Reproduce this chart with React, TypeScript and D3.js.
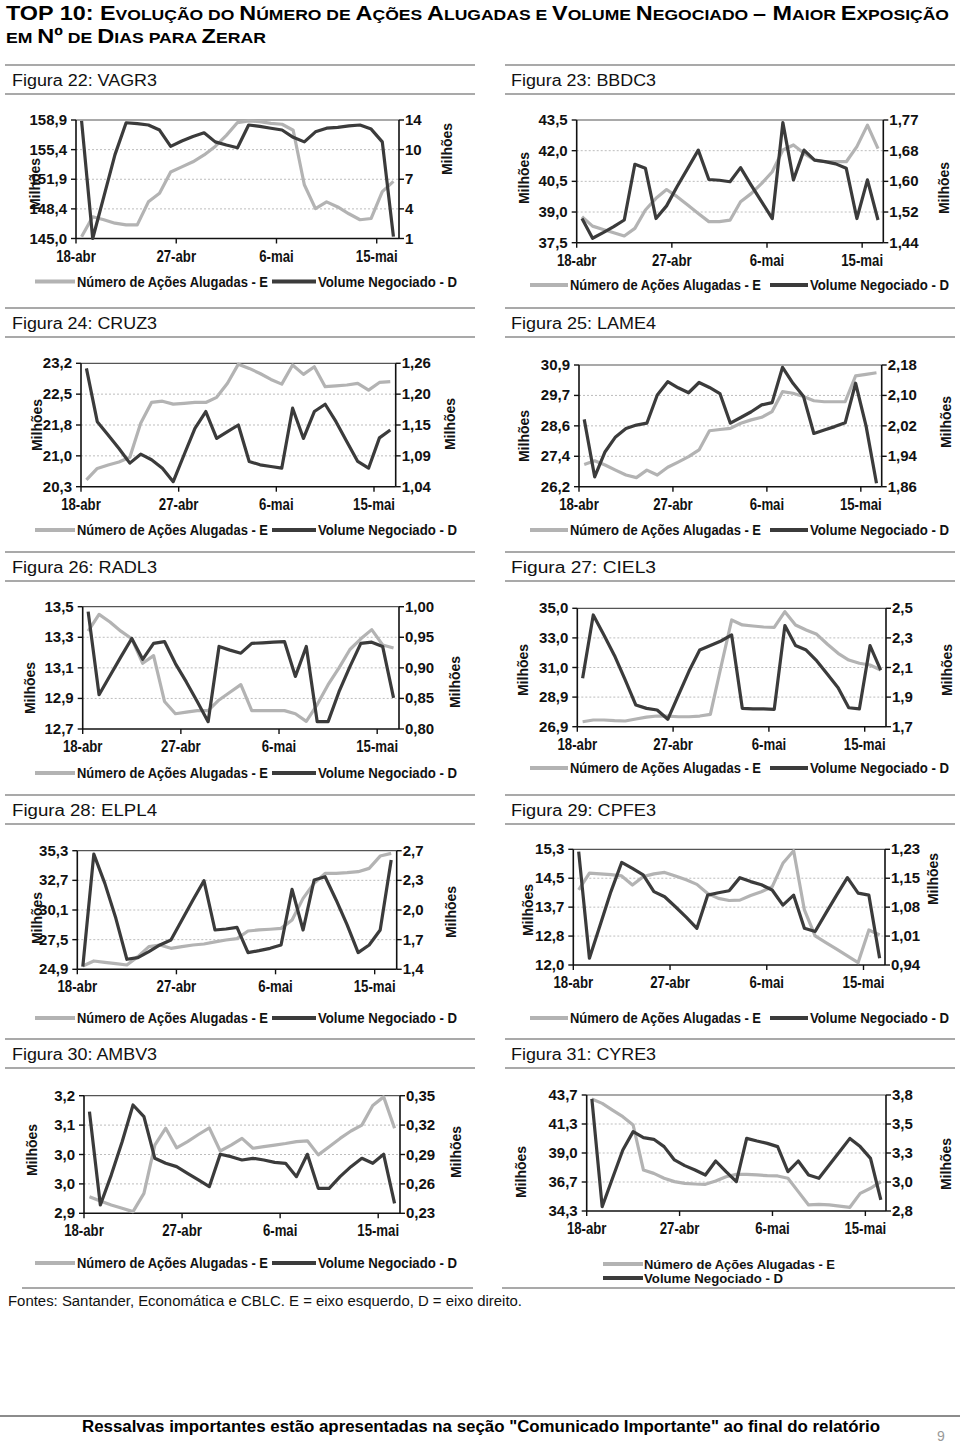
import React from 'react';
import * as d3 from 'd3';

// ---------- DATA ----------
const DATES = [
  '18-abr','19-abr','20-abr','21-abr','22-abr','23-abr','24-abr','25-abr','26-abr','27-abr','28-abr','29-abr','30-abr',
  '1-mai','2-mai','3-mai','4-mai','5-mai','6-mai','7-mai','8-mai','9-mai','10-mai','11-mai','12-mai','13-mai','14-mai','15-mai','16-mai'
];
const X_TICKS = ['18-abr', '27-abr', '6-mai', '15-mai'];
const SERIES_E = 'Número de Ações Alugadas - E';
const SERIES_D = 'Volume Negociado - D';

const VAGR3_E = [145.2,147.55,147.2,146.8,146.6,146.6,149.3,150.3,152.8,153.4,154.0,154.8,155.8,157.1,158.6,158.8,158.7,158.5,158.4,157.7,151.3,148.5,149.3,148.7,147.9,147.2,147.35,150.5,151.7];
const VAGR3_D = [13.9,1.0,5.6,10.2,13.7,13.6,13.45,12.9,11.1,11.7,12.2,12.6,11.6,11.25,10.95,13.45,13.3,13.1,12.9,12.1,11.6,12.7,13.1,13.2,13.35,13.45,13.0,11.6,1.2];
const VAGR3_E_TICKS = ['145,0','148,4','151,9','155,4','158,9'];
const VAGR3_D_TICKS = ['1','4','7','10','14'];

const BBDC3_E = [38.77,38.31,38.15,37.99,37.83,38.2,39.1,39.67,40.1,39.75,39.34,38.93,38.53,38.53,38.6,39.5,39.9,40.4,40.97,42.03,42.28,41.87,41.54,41.46,41.46,41.46,42.2,43.25,42.1];
const BBDC3_D = [1.505,1.452,1.467,1.483,1.501,1.651,1.640,1.505,1.539,1.591,1.640,1.689,1.610,1.608,1.604,1.642,1.595,1.550,1.505,1.763,1.609,1.689,1.662,1.658,1.652,1.640,1.505,1.609,1.501];
const BBDC3_E_TICKS = ['37,5','39,0','40,5','42,0','43,5'];
const BBDC3_D_TICKS = ['1,44','1,52','1,60','1,68','1,77'];

const CRUZ3_E = [20.46,20.73,20.81,20.88,20.99,21.79,22.28,22.31,22.24,22.26,22.28,22.28,22.4,22.73,23.18,23.08,22.96,22.82,22.71,23.16,22.94,23.12,22.65,22.67,22.69,22.73,22.57,22.75,22.77];
const CRUZ3_D = [1.251,1.156,1.132,1.108,1.082,1.098,1.088,1.073,1.049,1.097,1.144,1.174,1.126,1.138,1.15,1.085,1.079,1.076,1.073,1.18,1.126,1.174,1.187,1.156,1.12,1.085,1.073,1.127,1.141];
const CRUZ3_E_TICKS = ['20,3','21,0','21,8','22,5','23,2'];
const CRUZ3_D_TICKS = ['1,04','1,09','1,15','1,20','1,26'];

const LAME4_E = [27.06,27.2,27.04,26.84,26.65,26.55,26.84,26.65,26.95,27.15,27.36,27.62,28.36,28.41,28.45,28.65,28.78,28.88,29.1,29.87,29.81,29.68,29.52,29.48,29.48,29.48,30.48,30.54,30.6];
const LAME4_D = [2.037,1.886,1.952,1.991,2.013,2.022,2.027,2.101,2.136,2.12,2.107,2.134,2.121,2.105,2.027,2.042,2.057,2.075,2.081,2.174,2.132,2.098,2.0,2.009,2.018,2.028,2.132,2.02,1.869];
const LAME4_E_TICKS = ['26,2','27,4','28,6','29,7','30,9'];
const LAME4_D_TICKS = ['1,86','1,94','2,02','2,10','2,18'];

const RADL3_E = [13.34,13.45,13.4,13.34,13.29,13.13,13.18,12.88,12.8,12.81,12.82,12.82,12.89,12.94,12.99,12.82,12.82,12.82,12.82,12.8,12.75,12.86,12.99,13.1,13.22,13.29,13.35,13.25,13.23];
const RADL3_D = [0.992,0.856,0.887,0.918,0.948,0.914,0.94,0.943,0.907,0.877,0.845,0.812,0.935,0.929,0.924,0.94,0.941,0.942,0.943,0.886,0.935,0.812,0.812,0.861,0.902,0.94,0.942,0.935,0.851];
const RADL3_E_TICKS = ['12,7','12,9','13,1','13,3','13,5'];
const RADL3_D_TICKS = ['0,80','0,85','0,90','0,95','1,00'];

const CIEL3_E = [27.24,27.36,27.36,27.31,27.29,27.43,27.56,27.63,27.63,27.58,27.58,27.63,27.74,31.0,34.2,33.86,33.79,33.72,33.7,34.77,33.86,33.52,33.22,32.54,31.92,31.46,31.24,31.12,30.78];
const CIEL3_D = [2.027,2.455,2.32,2.18,2.016,1.846,1.824,1.813,1.75,1.914,2.076,2.218,2.248,2.279,2.32,1.824,1.82,1.82,1.817,2.383,2.248,2.218,2.144,2.054,1.964,1.828,1.82,2.248,2.083];
const CIEL3_E_TICKS = ['26,9','28,9','31,0','33,0','35,0'];
const CIEL3_D_TICKS = ['1,7','1,9','2,1','2,3','2,5'];

const ELPL4_E = [25.19,25.63,25.51,25.4,25.28,26.01,26.89,27.03,26.74,26.89,27.03,27.12,27.3,27.47,27.59,28.26,28.35,28.41,28.49,29.22,31.12,32.44,33.31,33.31,33.37,33.46,33.75,34.83,35.07];
const ELPL4_D = [1.429,2.663,2.342,1.959,1.51,1.528,1.594,1.667,1.721,1.94,2.16,2.371,1.831,1.842,1.86,1.583,1.604,1.63,1.667,2.276,1.831,2.379,2.415,2.16,1.886,1.583,1.667,1.831,2.598];
const ELPL4_E_TICKS = ['24,9','27,5','30,1','32,7','35,3'];
const ELPL4_D_TICKS = ['1,4','1,7','2,0','2,3','2,7'];

const CPFE3_E = [14.14,14.62,14.6,14.58,14.54,14.28,14.52,14.6,14.64,14.54,14.43,14.3,14.04,13.9,13.84,13.85,13.98,14.09,14.23,14.9,15.26,13.57,12.83,12.64,12.45,12.26,12.07,13.0,12.86];
const CPFE3_D = [1.224,0.957,1.04,1.124,1.197,1.182,1.166,1.124,1.111,1.086,1.06,1.032,1.115,1.121,1.126,1.159,1.149,1.141,1.128,1.09,1.115,1.032,1.024,1.07,1.115,1.159,1.12,1.115,0.957];
const CPFE3_E_TICKS = ['12,0','12,8','13,7','14,5','15,3'];
const CPFE3_D_TICKS = ['0,94','1,01','1,08','1,15','1,23'];

const AMBV3_E = [2.9425,2.9314,2.9213,2.9127,2.9043,2.951,3.074,3.117,3.067,3.083,3.101,3.118,3.059,3.074,3.091,3.066,3.07,3.074,3.078,3.083,3.085,3.049,3.07,3.091,3.11,3.125,3.175,3.197,3.117];
const AMBV3_D = [0.3337,0.2385,0.269,0.303,0.3405,0.3286,0.2861,0.281,0.2776,0.2708,0.264,0.2572,0.2902,0.2878,0.2844,0.2861,0.2844,0.282,0.281,0.2674,0.2902,0.2555,0.2555,0.2674,0.2776,0.2861,0.281,0.2902,0.2402];
const AMBV3_E_TICKS = ['2,9','3,0','3,0','3,1','3,2'];
const AMBV3_D_TICKS = ['0,23','0,26','0,29','0,32','0,35'];

const CYRE3_E = [43.38,43.02,42.48,41.94,41.27,37.62,37.35,36.95,36.68,36.54,36.49,36.46,36.73,37.08,37.27,37.27,37.22,37.16,37.14,36.95,35.87,34.79,34.84,34.79,34.7,34.6,35.73,36.14,36.68];
const CYRE3_D = [3.766,2.837,3.082,3.326,3.484,3.432,3.418,3.355,3.24,3.191,3.153,3.11,3.231,3.139,3.053,3.426,3.403,3.383,3.355,3.139,3.231,3.11,3.082,3.197,3.311,3.426,3.355,3.254,2.895];
const CYRE3_E_TICKS = ['34,3','36,7','39,0','41,3','43,7'];
const CYRE3_D_TICKS = ['2,8','3,0','3,3','3,5','3,8'];

// ---------- LAYOUT ----------
const SANS = "'Liberation Sans', Arial, Helvetica, sans-serif";
const LIGHT = '#b3b3b3';
const DARK = '#3b3b3b';

const ROW_Y = [80, 323, 567, 810, 1054];

type Cfg = {
  title: string; col: number; row: number;
  L: number; R: number; T: number; B: number;
  E: number[]; D: number[]; eDom: [number, number]; dDom: [number, number];
  eTicks: string[]; dTicks: string[];
  mL: [number, number]; mR: [number, number]; legY: number; stacked?: boolean;
};

const CHARTS: Cfg[] = [
  { title: 'Figura 22: VAGR3', col: 0, row: 0, L: 76, R: 399, T: 120, B: 238.5, E: VAGR3_E, D: VAGR3_D, eDom: [145.0, 158.9], dDom: [1, 14], eTicks: VAGR3_E_TICKS, dTicks: VAGR3_D_TICKS, mL: [35, 184], mR: [447, 149], legY: 281.5 },
  { title: 'Figura 23: BBDC3', col: 1, row: 0, L: 576.7, R: 883.3, T: 120, B: 242.7, E: BBDC3_E, D: BBDC3_D, eDom: [37.5, 43.5], dDom: [1.44, 1.77], eTicks: BBDC3_E_TICKS, dTicks: BBDC3_D_TICKS, mL: [524, 178], mR: [944, 188], legY: 285 },
  { title: 'Figura 24: CRUZ3', col: 0, row: 1, L: 81, R: 395.7, T: 363.3, B: 486.7, E: CRUZ3_E, D: CRUZ3_D, eDom: [20.3, 23.2], dDom: [1.04, 1.26], eTicks: CRUZ3_E_TICKS, dTicks: CRUZ3_D_TICKS, mL: [37, 425], mR: [450, 424], legY: 530 },
  { title: 'Figura 25: LAME4', col: 1, row: 1, L: 579, R: 881.7, T: 365, B: 486.7, E: LAME4_E, D: LAME4_D, eDom: [26.2, 30.9], dDom: [1.86, 2.18], eTicks: LAME4_E_TICKS, dTicks: LAME4_D_TICKS, mL: [524, 436], mR: [946, 422], legY: 530 },
  { title: 'Figura 26: RADL3', col: 0, row: 2, L: 82.7, R: 399, T: 606.7, B: 729, E: RADL3_E, D: RADL3_D, eDom: [12.7, 13.5], dDom: [0.8, 1.0], eTicks: RADL3_E_TICKS, dTicks: RADL3_D_TICKS, mL: [30, 688], mR: [455, 682], legY: 773 },
  { title: 'Figura 27: CIEL3', col: 1, row: 2, L: 577.3, R: 886, T: 608.3, B: 726.7, E: CIEL3_E, D: CIEL3_D, eDom: [26.9, 35.0], dDom: [1.7, 2.5], eTicks: CIEL3_E_TICKS, dTicks: CIEL3_D_TICKS, mL: [523, 670], mR: [947, 670], legY: 768 },
  { title: 'Figura 28: ELPL4', col: 0, row: 3, L: 77.3, R: 396.7, T: 850.7, B: 969.3, E: ELPL4_E, D: ELPL4_D, eDom: [24.9, 35.3], dDom: [1.4, 2.7], eTicks: ELPL4_E_TICKS, dTicks: ELPL4_D_TICKS, mL: [37, 918], mR: [451, 912], legY: 1018 },
  { title: 'Figura 29: CPFE3', col: 1, row: 3, L: 573.3, R: 885, T: 849.3, B: 965, E: CPFE3_E, D: CPFE3_D, eDom: [12.0, 15.3], dDom: [0.94, 1.23], eTicks: CPFE3_E_TICKS, dTicks: CPFE3_D_TICKS, mL: [528, 910], mR: [933, 879], legY: 1018 },
  { title: 'Figura 30: AMBV3', col: 0, row: 4, L: 84, R: 400, T: 1095.7, B: 1213.3, E: AMBV3_E, D: AMBV3_D, eDom: [2.9, 3.2], dDom: [0.23, 0.35], eTicks: AMBV3_E_TICKS, dTicks: AMBV3_D_TICKS, mL: [32, 1150], mR: [456, 1152], legY: 1263 },
  { title: 'Figura 31: CYRE3', col: 1, row: 4, L: 586.7, R: 886, T: 1095, B: 1211, E: CYRE3_E, D: CYRE3_D, eDom: [34.3, 43.7], dDom: [2.8, 3.8], eTicks: CYRE3_E_TICKS, dTicks: CYRE3_D_TICKS, mL: [521, 1172], mR: [946, 1164], legY: 1264, stacked: true },
];

function Chart({ c }: { c: Cfg }) {
  const x = d3.scaleBand<string>().domain(DATES).range([c.L, c.R]).paddingInner(0).paddingOuter(0);
  const bw = x.bandwidth();
  const cx = (i: number) => (x(DATES[i]) as number) + bw / 2;
  const yE = d3.scaleLinear().domain(c.eDom).range([c.B, c.T]);
  const yD = d3.scaleLinear().domain(c.dDom).range([c.B, c.T]);
  const lineE = d3.line<number>().x((_, i) => cx(i)).y((v) => yE(v));
  const lineD = d3.line<number>().x((_, i) => cx(i)).y((v) => yD(v));
  const n = c.eTicks.length - 1;
  const eVals = c.eTicks.map((_, k) => c.eDom[0] + (k * (c.eDom[1] - c.eDom[0])) / n);
  const dVals = c.dTicks.map((_, k) => c.dDom[0] + (k * (c.dDom[1] - c.dDom[0])) / n);
  const hx = c.col === 0 ? 12 : 511;
  const hy = ROW_Y[c.row];
  const lx0 = c.col === 0 ? 5 : 505;
  const lx1 = c.col === 0 ? 475 : 955;

  const leg = c.col === 0
    ? { a1: 35, a2: 75, t1: 77, b1: 272, b2: 316, t2: 318 }
    : { a1: 530, a2: 568, t1: 570, b1: 770, b2: 808, t2: 810 };

  return (
    <g>
      <line x1={lx0} x2={lx1} y1={hy - 15} y2={hy - 15} stroke="#8c8c8c" strokeWidth={1.6} />
      <line x1={lx0} x2={lx1} y1={hy + 14} y2={hy + 14} stroke="#8c8c8c" strokeWidth={1.6} />
      <text x={hx} y={hy + 5.5} fontFamily={SANS} fontSize={16} fill="#111" textLength={145} lengthAdjust="spacingAndGlyphs">{c.title}</text>

      {eVals.slice(1, -1).map((v, k) => (
        <line key={'g' + k} x1={c.L} x2={c.R} y1={yE(v)} y2={yE(v)} stroke="#bdbdbd" strokeWidth={1} strokeDasharray="2,2" />
      ))}
      <line x1={c.L} x2={c.R} y1={c.T} y2={c.T} stroke="#555" strokeWidth={1.2} />
      <line x1={c.L} x2={c.L} y1={c.T} y2={c.B} stroke="#111" strokeWidth={1.6} />
      <line x1={c.R} x2={c.R} y1={c.T} y2={c.B} stroke="#111" strokeWidth={1.6} />
      <line x1={c.L} x2={c.R} y1={c.B} y2={c.B} stroke="#111" strokeWidth={1.6} />

      {eVals.map((v, k) => (
        <g key={'e' + k}>
          <line x1={c.L - 5} x2={c.L} y1={yE(v)} y2={yE(v)} stroke="#111" strokeWidth={1.4} />
          <text x={c.L - 9} y={yE(v) + 5} textAnchor="end" fontFamily={SANS} fontWeight="bold" fontSize={15} fill="#111">{c.eTicks[k]}</text>
        </g>
      ))}
      {dVals.map((v, k) => (
        <g key={'d' + k}>
          <line x1={c.R} x2={c.R + 5} y1={yD(v)} y2={yD(v)} stroke="#111" strokeWidth={1.4} />
          <text x={c.R + 6} y={yD(v) + 5} textAnchor="start" fontFamily={SANS} fontWeight="bold" fontSize={15} fill="#111">{c.dTicks[k]}</text>
        </g>
      ))}
      {X_TICKS.map((t) => {
        const xx = x(t) as number;
        return (
          <g key={t}>
            <line x1={xx} x2={xx} y1={c.B} y2={c.B + 5} stroke="#111" strokeWidth={1.4} />
            <text transform={`translate(${xx},${c.B + 23}) scale(0.8,1)`} textAnchor="middle" fontFamily={SANS} fontWeight="bold" fontSize={16.5} fill="#111">{t}</text>
          </g>
        );
      })}

      <path d={lineE(c.E) || ''} fill="none" stroke={LIGHT} strokeWidth={3.2} strokeLinejoin="round" />
      <path d={lineD(c.D) || ''} fill="none" stroke={DARK} strokeWidth={3.2} strokeLinejoin="round" />

      <text transform={`translate(${c.mL[0]},${c.mL[1]}) rotate(-90)`} textAnchor="middle" dominantBaseline="central" fontFamily={SANS} fontWeight="bold" fontSize={14} fill="#111">Milhões</text>
      <text transform={`translate(${c.mR[0]},${c.mR[1]}) rotate(-90)`} textAnchor="middle" dominantBaseline="central" fontFamily={SANS} fontWeight="bold" fontSize={14} fill="#111">Milhões</text>

      {c.stacked ? (
        <g>
          <line x1={603} x2={643} y1={c.legY} y2={c.legY} stroke={LIGHT} strokeWidth={4} />
          <text x={644} y={c.legY + 4.5} fontFamily={SANS} fontWeight="bold" fontSize={13} fill="#111" textLength={191} lengthAdjust="spacingAndGlyphs">{SERIES_E}</text>
          <line x1={603} x2={643} y1={c.legY + 14} y2={c.legY + 14} stroke={DARK} strokeWidth={4} />
          <text x={644} y={c.legY + 18.5} fontFamily={SANS} fontWeight="bold" fontSize={13} fill="#111" textLength={139} lengthAdjust="spacingAndGlyphs">{SERIES_D}</text>
        </g>
      ) : (
        <g>
          <line x1={leg.a1} x2={leg.a2} y1={c.legY} y2={c.legY} stroke={LIGHT} strokeWidth={4} />
          <text x={leg.t1} y={c.legY + 5} fontFamily={SANS} fontWeight="bold" fontSize={14} fill="#111" textLength={191} lengthAdjust="spacingAndGlyphs">{SERIES_E}</text>
          <line x1={leg.b1} x2={leg.b2} y1={c.legY} y2={c.legY} stroke={DARK} strokeWidth={4} />
          <text x={leg.t2} y={c.legY + 5} fontFamily={SANS} fontWeight="bold" fontSize={14} fill="#111" textLength={139} lengthAdjust="spacingAndGlyphs">{SERIES_D}</text>
        </g>
      )}
    </g>
  );
}

const TITLE_1: [string, boolean][] = [
  ['TOP 10: E', true], ['VOLUÇÃO DO ', false], ['N', true], ['ÚMERO DE ', false], ['A', true], ['ÇÕES ', false],
  ['A', true], ['LUGADAS E ', false], ['V', true], ['OLUME ', false], ['N', true], ['EGOCIADO ', false],
  [' – ', true], ['M', true], ['AIOR ', false], ['E', true], ['XPOSIÇÃO', false],
];
const TITLE_2: [string, boolean][] = [
  ['EM ', false], ['Nº', true], [' DE ', false], ['D', true], ['IAS PARA ', false], ['Z', true], ['ERAR', false],
];

export default function App() {
  return (
    <svg width={960} height={1445} viewBox="0 0 960 1445" style={{ position: 'absolute', left: 0, top: 0, background: '#fff' }}>
      <rect x={0} y={0} width={960} height={1445} fill="#fff" />
      <text x={6} y={20} fontFamily={SANS} fontWeight="bold" fill="#000" textLength={943} lengthAdjust="spacingAndGlyphs">
        {TITLE_1.map(([t, big], i) => (
          <tspan key={i} fontSize={big ? 20 : 15}>{t}</tspan>
        ))}
      </text>
      <text x={6} y={43} fontFamily={SANS} fontWeight="bold" fill="#000" textLength={260} lengthAdjust="spacingAndGlyphs">
        {TITLE_2.map(([t, big], i) => (
          <tspan key={i} fontSize={big ? 20 : 15}>{t}</tspan>
        ))}
      </text>

      {CHARTS.map((c) => (
        <Chart key={c.title} c={c} />
      ))}

      <line x1={22} x2={473} y1={1288} y2={1288} stroke="#8c8c8c" strokeWidth={1.6} />
      <line x1={502} x2={955} y1={1288} y2={1288} stroke="#8c8c8c" strokeWidth={1.6} />
      <text x={8} y={1306} fontFamily={SANS} fontSize={14} fill="#111" textLength={514} lengthAdjust="spacingAndGlyphs">Fontes: Santander, Economática e CBLC. E = eixo esquerdo, D = eixo direito.</text>

      <line x1={0} x2={960} y1={1416} y2={1416} stroke="#8c8c8c" strokeWidth={2} />
      <text x={481} y={1432} textAnchor="middle" fontFamily={SANS} fontWeight="bold" fontSize={16} fill="#000" textLength={798} lengthAdjust="spacingAndGlyphs">Ressalvas importantes estão apresentadas na seção "Comunicado Importante" ao final do relatório</text>
      <text x={937} y={1441} fontFamily={SANS} fontSize={14} fill="#999">9</text>
    </svg>
  );
}
